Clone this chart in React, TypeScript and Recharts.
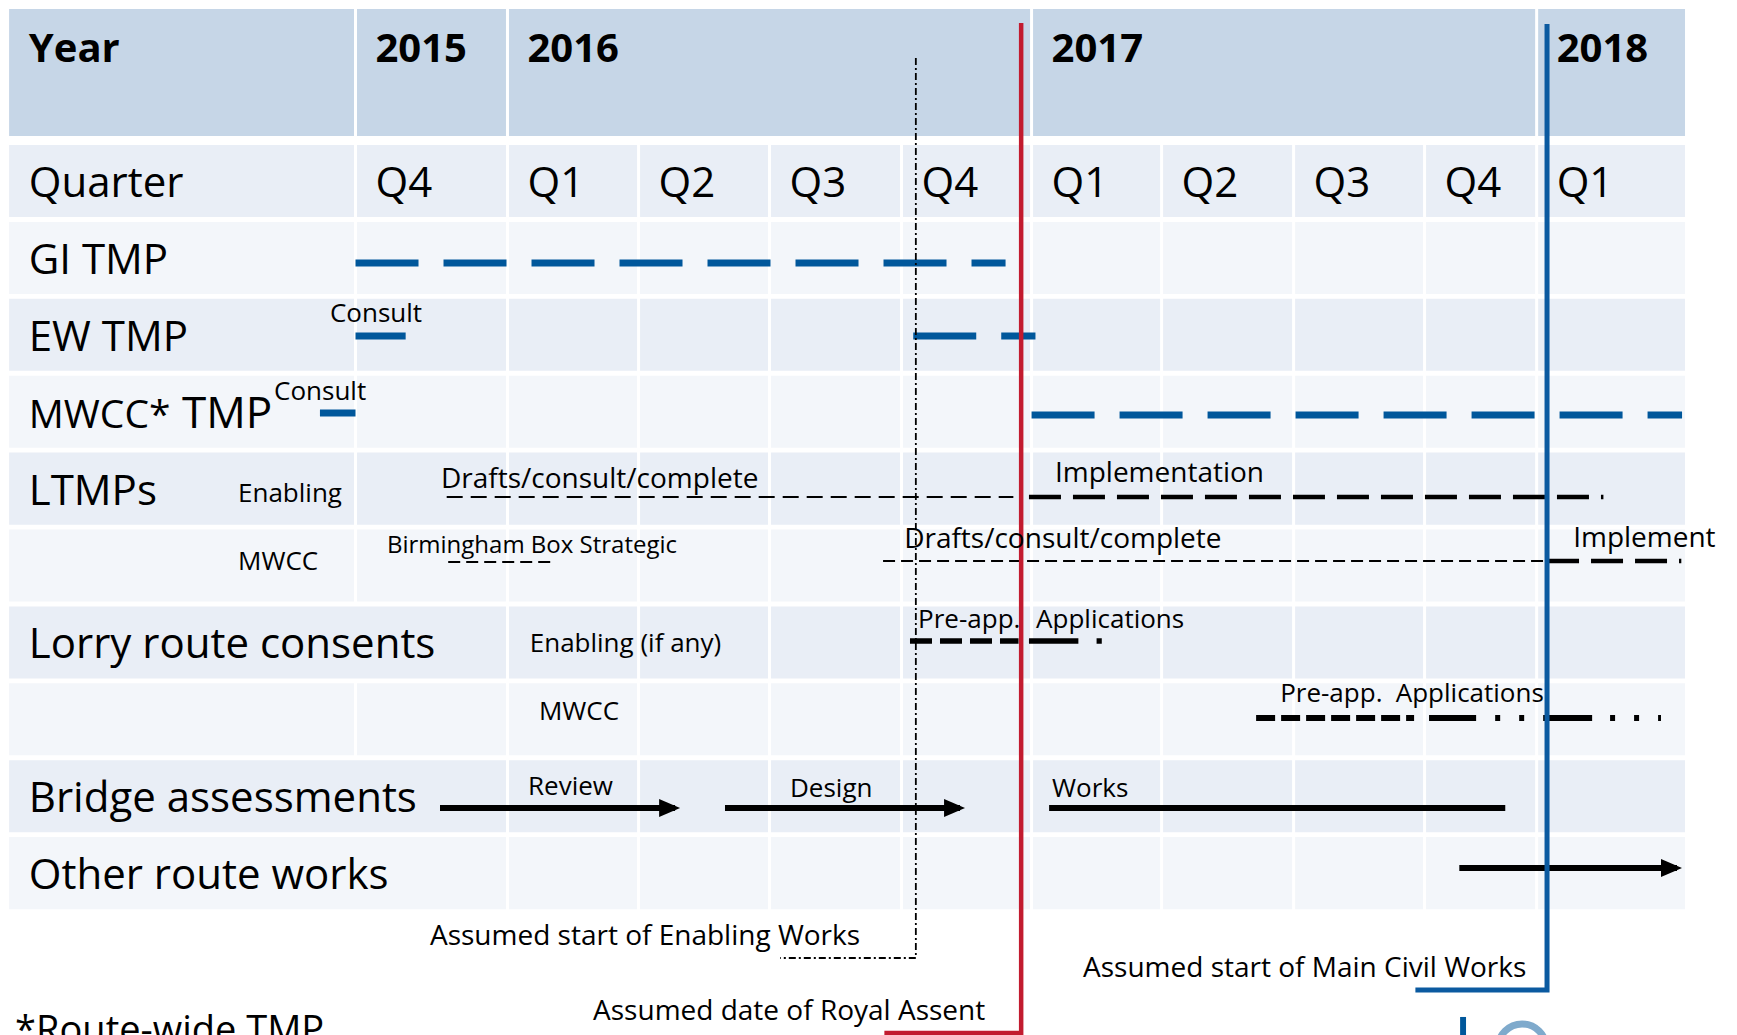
import React from 'react';
import { ComposedChart, XAxis, YAxis, Line, Scatter, ReferenceArea } from 'recharts';

// ---------------- DATA ----------------
// Time is measured in quarters from the start of Q4 2015 (0) to the end of Q1 2018 (10).
// Vertical position "at" is measured in table rows (row 0 = "Quarter").
const YEAR_LABELS = ['2015', '2016', '2017', '2018'];
const YEAR_FIRST_QUARTER = [0, 1, 5, 9];
const YEAR_LAST_QUARTER = [1, 5, 9, 10];
const QUARTER_LABELS = ['Q4', 'Q1', 'Q2', 'Q3', 'Q4', 'Q1', 'Q2', 'Q3', 'Q4', 'Q1'];
const ROW_LABELS = ['Quarter', 'GI TMP', 'EW TMP', 'MWCC* TMP', 'LTMPs', '', 'Lorry route consents', '', 'Bridge assessments', 'Other route works'];
const MERGED_LABEL_ROWS = [6, 8, 9];

const GI_TMP = [{ from: 0, to: 4.8, at: 1.534 }];
const EW_TMP_CONSULT = [{ from: 0, to: 0.33, at: 2.484 }];
const EW_TMP = [{ from: 4.09, to: 5.03, at: 2.484 }];
const MWCC_TMP_CONSULT = [{ from: -0.234, to: 0, at: 3.485 }];
const MWCC_TMP = [{ from: 5.0, to: 9.98, at: 3.511 }];
const LTMP_ENABLING_DRAFT = [{ from: 0.6, to: 4.86, at: 4.577 }];
const LTMP_ENABLING_IMPL = [{ from: 4.98, to: 9.45, at: 4.577 }];
const LTMP_MWCC_BBOX = [{ from: 0.61, to: 1.35, at: 5.423 }];
const LTMP_MWCC_DRAFT = [{ from: 3.86, to: 9.07, at: 5.41 }];
const LTMP_MWCC_IMPL = [{ from: 9.07, to: 9.975, at: 5.41 }];
const LORRY_ENABLING_PREAPP = [{ from: 4.065, to: 4.9, at: 6.45 }];
const LORRY_ENABLING_APPS = [{ from: 4.98, to: 5.36, at: 6.45 }, { from: 5.5, to: 5.54, at: 6.45 }];
const LORRY_MWCC_PREAPP = [{ from: 6.716, to: 7.92, at: 7.451 }];
const LORRY_MWCC_APPS = [{ from: 8.04, to: 8.46, at: 7.451 }, { from: 9.044, to: 9.374, at: 7.451 }];
const LORRY_MWCC_DOTS = [{ from: 8.63, to: 8.89, at: 7.451 }, { from: 9.495, to: 9.838, at: 7.451 }];
const BRIDGE_ARROWS = [{ from: 0.556, to: 2.279, at: 8.622 }, { from: 2.66, to: 4.45, at: 8.622 }];
const BRIDGE_WORKS = [{ from: 5.135, to: 8.72, at: 8.622 }];
const OTHER_ROUTE_ARROWS = [{ from: 8.31, to: 9.946, at: 9.402 }];

const MILESTONE_NAMES = ['enabling', 'assent', 'main'];
const MILESTONE_T = [4.11, 4.92, 9.07];
const MILESTONE_TOP = [-1.131, -1.586, -1.573];
const MILESTONE_BOTTOM = [10.572, 11.547, 10.988];
const MILESTONE_BACK = [3.08, 3.87, 7.93];

const TEXT_NOTES = [
  { text: 'Consult', t: -0.168, at: 2.302, kind: 'note' },
  { text: 'Consult', t: -0.536, at: 3.316, kind: 'note' },
  { text: 'Enabling', t: -0.773, at: 4.642, kind: 'note' },
  { text: 'MWCC', t: -0.773, at: 5.527, kind: 'note' },
  { text: 'Drafts/consult/complete', t: 0.5625, at: 4.46, kind: 'phase' },
  { text: 'Implementation', t: 5.18, at: 4.382, kind: 'phase' },
  { text: 'Birmingham Box Strategic', t: 0.207, at: 5.306, kind: 'small' },
  { text: 'Drafts/consult/complete', t: 4.02, at: 5.24, kind: 'phase' },
  { text: 'Implement', t: 9.246, at: 5.228, kind: 'phase' },
  { text: 'Enabling (if any)', t: 1.17, at: 6.593, kind: 'note' },
  { text: 'MWCC', t: 1.24, at: 7.477, kind: 'note' },
  { text: 'Pre-app.', t: 4.127, at: 6.281, kind: 'note' },
  { text: 'Applications', t: 5.035, at: 6.281, kind: 'note' },
  { text: 'Pre-app.', t: 6.898, at: 7.243, kind: 'note' },
  { text: 'Applications', t: 7.78, at: 7.243, kind: 'note' },
  { text: 'Review', t: 1.157, at: 8.453, kind: 'note' },
  { text: 'Design', t: 3.155, at: 8.478, kind: 'note' },
  { text: 'Works', t: 5.158, at: 8.478, kind: 'note' },
  { text: 'Assumed start of Enabling Works', t: 0.49, at: 10.403, kind: 'milestone' },
  { text: 'Assumed date of Royal Assent', t: 1.653, at: 11.378, kind: 'milestone' },
  { text: 'Assumed start of Main Civil Works', t: 5.396, at: 10.819, kind: 'milestone' },
  { text: '*Route-wide TMP', t: -2.24, at: 11.677, kind: 'footnote' },
];

const LOGO_BAR = { from: 8.317, to: 8.37, top: 11.339 };
const LOGO_ARC = { t: 8.87, at: 11.742 };

// ---------------- LAYOUT / STYLE ----------------
const W = 1737;
const H = 1035;
const X_DOMAIN = [-2.674, 10.391];
const Y_DOMAIN = [-1.8856, 11.5735];
const COL_W = [1.143, 0.986, 0.985, 0.993, 0.978, 0.978, 0.993, 0.985, 0.843, 1.116];
const COL_EDGE = COL_W.reduce((acc: number[], w) => [...acc, acc[acc.length - 1] + w], [0]);
const TABLE_LEFT = -2.2796;
const LABEL_T = -2.15;
const HEADER_TOP = -1.7685;
const HEADER_BOTTOM = -0.117;
const HEADER_BASELINE = -1.079;
const ROW_H = 0.937;
const ROW_BASELINE = 0.675;
const GAP = 0.0113;

const FONT = "'Open Sans', 'DejaVu Sans', sans-serif";
const HEADER_FILL = '#C6D6E7';
const DARK_FILL = '#E9EEF6';
const LIGHT_FILL = '#F3F6FA';
const BLUE = '#00579B';
const RED = '#C21B2F';
const BLUE_MS = '#0B5AA0';

// piecewise position of a time (in quarters) on the x axis, following the table's column widths
const qx = (t: number) => {
  const i = Math.max(0, Math.min(9, Math.floor(t)));
  return COL_EDGE[i] + (t - i) * COL_W[i];
};

const TEXT_STYLE: any = {
  headerLabel: { size: 40, weight: 700, dx: 0 },
  header: { size: 40, weight: 700, dx: 20 },
  rowLabel: { size: 42, weight: 400, dx: 0 },
  quarter: { size: 42, weight: 400, dx: 20 },
  note: { size: 26, weight: 400, dx: 0 },
  small: { size: 24, weight: 400, dx: 0 },
  phase: { size: 28, weight: 400, dx: 0 },
  milestone: { size: 28, weight: 400, dx: 0 },
  footnote: { size: 38, weight: 400, dx: 0 },
};

const LINE_STYLE: any = {
  blueDash: { stroke: BLUE, width: 7, dash: '63 25' },
  blueSolid: { stroke: BLUE, width: 7, dash: undefined },
  thinDashA: { stroke: '#000', width: 2, dash: '16 8' },
  thinDashB: { stroke: '#000', width: 2, dash: '12 6' },
  thickDash: { stroke: '#000', width: 4.5, dash: '32 12' },
  lorryDash: { stroke: '#000', width: 5.5, dash: '22 8' },
  lorrySolid: { stroke: '#000', width: 5.5, dash: undefined },
  lorryDashB: { stroke: '#000', width: 6, dash: '19 6' },
  lorrySolidB: { stroke: '#000', width: 6, dash: undefined },
  lorryDots: { stroke: '#000', width: 6, dash: '5 19' },
  arrow: { stroke: '#000', width: 6, dash: undefined },
};

const SERIES = [
  { segs: GI_TMP, style: 'blueDash' },
  { segs: EW_TMP_CONSULT, style: 'blueSolid' },
  { segs: EW_TMP, style: 'blueDash' },
  { segs: MWCC_TMP_CONSULT, style: 'blueSolid' },
  { segs: MWCC_TMP, style: 'blueDash' },
  { segs: LTMP_ENABLING_DRAFT, style: 'thinDashA' },
  { segs: LTMP_ENABLING_IMPL, style: 'thickDash' },
  { segs: LTMP_MWCC_BBOX, style: 'thinDashB' },
  { segs: LTMP_MWCC_DRAFT, style: 'thinDashB' },
  { segs: LTMP_MWCC_IMPL, style: 'thickDash' },
  { segs: LORRY_ENABLING_PREAPP, style: 'lorryDash' },
  { segs: LORRY_ENABLING_APPS, style: 'lorrySolid' },
  { segs: LORRY_MWCC_PREAPP, style: 'lorryDashB' },
  { segs: LORRY_MWCC_APPS, style: 'lorrySolidB' },
  { segs: LORRY_MWCC_DOTS, style: 'lorryDots' },
  { segs: BRIDGE_ARROWS, style: 'arrow' },
  { segs: BRIDGE_WORKS, style: 'arrow' },
  { segs: OTHER_ROUTE_ARROWS, style: 'arrow' },
];

const MILESTONE_STYLE: any = {
  enabling: { stroke: '#000', width: 1.8, dash: '7 3 2 3' },
  assent: { stroke: RED, width: 4.5, dash: undefined },
  main: { stroke: BLUE_MS, width: 5, dash: undefined },
};

// ---------------- BUILD ----------------
type Cell = { x1: number; x2: number; y1: number; y2: number; fill: string };
const cells: Cell[] = [];
const pushCell = (t1: number, t2: number, y1: number, y2: number, fill: string) => {
  const x1 = t1 === TABLE_LEFT ? qx(t1) : qx(t1) + GAP;
  const x2 = t2 === 10 ? qx(t2) : qx(t2) - GAP;
  cells.push({ x1, x2, y1, y2, fill });
};
pushCell(TABLE_LEFT, 0, HEADER_TOP, HEADER_BOTTOM, HEADER_FILL);
YEAR_LABELS.forEach((_, i) => pushCell(YEAR_FIRST_QUARTER[i], YEAR_LAST_QUARTER[i], HEADER_TOP, HEADER_BOTTOM, HEADER_FILL));
ROW_LABELS.forEach((_, r) => {
  const fill = r % 2 === 0 ? DARK_FILL : LIGHT_FILL;
  const merged = MERGED_LABEL_ROWS.includes(r);
  pushCell(TABLE_LEFT, merged ? 1 : 0, r, r + ROW_H, fill);
  for (let q = merged ? 1 : 0; q < 10; q++) pushCell(q, q + 1, r, r + ROW_H, fill);
});

const textPoints: any[] = [];
textPoints.push({ x: qx(LABEL_T), y: HEADER_BASELINE, text: 'Year', kind: 'headerLabel' });
YEAR_LABELS.forEach((label, i) => textPoints.push({ x: qx(YEAR_FIRST_QUARTER[i]), y: HEADER_BASELINE, text: label, kind: 'header' }));
QUARTER_LABELS.forEach((label, i) => textPoints.push({ x: qx(i), y: ROW_BASELINE, text: label, kind: 'quarter' }));
ROW_LABELS.forEach((label, r) => {
  if (label) textPoints.push({ x: qx(LABEL_T), y: r + ROW_BASELINE, text: label, kind: 'rowLabel' });
});
TEXT_NOTES.forEach((n) => textPoints.push({ x: qx(n.t), y: n.at, text: n.text, kind: n.kind }));

const arrowTips = [...BRIDGE_ARROWS, ...OTHER_ROUTE_ARROWS].map((s) => ({ x: qx(s.to), y: s.at }));

const renderText = (p: any) => {
  const d = p.payload;
  const s = TEXT_STYLE[d.kind];
  if (p.cx == null || p.cy == null) return <g />;
  if (d.kind === 'rowLabel' && d.text.includes('* ')) {
    const [a, b] = d.text.split('* ');
    return (
      <text x={p.cx + s.dx} y={p.cy} fontFamily={FONT} fill="#000">
        <tspan fontSize={39}>{a + '*'}</tspan>
        <tspan fontSize={44}>{' ' + b}</tspan>
      </text>
    );
  }
  return (
    <text x={p.cx + s.dx} y={p.cy} fontSize={s.size} fontWeight={s.weight} fontFamily={FONT} fill="#000">
      {d.text}
    </text>
  );
};

const renderArrowHead = (p: any) => {
  const { cx, cy } = p;
  if (cx == null || cy == null) return <g />;
  return <path d={`M${cx - 16},${cy - 9} L${cx + 5},${cy} L${cx - 16},${cy + 9} Z`} fill="#000" />;
};

const renderLogoArc = (p: any) => {
  const { cx, cy } = p;
  if (cx == null || cy == null) return <g />;
  return <circle cx={cx} cy={cy} r={24} fill="none" stroke="#7FAACC" strokeWidth={7} />;
};

export default function App() {
  return (
    <div style={{ width: W, height: H, background: '#fff' }}>
      <style>{'body{margin:0;background:#fff;}'}</style>
      <ComposedChart width={W} height={H} margin={{ top: 0, right: 0, bottom: 0, left: 0 }}>
        <XAxis type="number" dataKey="x" domain={X_DOMAIN} allowDataOverflow hide />
        <YAxis type="number" dataKey="y" domain={Y_DOMAIN} allowDataOverflow reversed hide />
        {cells.map((c, i) => (
          <ReferenceArea key={'c' + i} x1={c.x1} x2={c.x2} y1={c.y1} y2={c.y2} fill={c.fill} fillOpacity={1} stroke="none" ifOverflow="visible" />
        ))}
        <ReferenceArea x1={qx(LOGO_BAR.from)} x2={qx(LOGO_BAR.to)} y1={LOGO_BAR.top} y2={Y_DOMAIN[1]} fill={BLUE} fillOpacity={1} stroke="none" ifOverflow="visible" />
        {SERIES.flatMap((s, si) =>
          s.segs.map((seg, j) => {
            const st = LINE_STYLE[s.style];
            return (
              <Line
                key={'s' + si + '-' + j}
                data={[{ x: qx(seg.from), y: seg.at }, { x: qx(seg.to), y: seg.at }]}
                dataKey="y"
                type="linear"
                stroke={st.stroke}
                strokeWidth={st.width}
                strokeDasharray={st.dash}
                dot={false}
                activeDot={false}
                legendType="none"
                isAnimationActive={false}
              />
            );
          })
        )}
        <Scatter data={arrowTips} dataKey="y" shape={renderArrowHead} isAnimationActive={false} />
        <Scatter data={[{ x: qx(LOGO_ARC.t), y: LOGO_ARC.at }]} dataKey="y" shape={renderLogoArc} isAnimationActive={false} />
        <Scatter data={textPoints} dataKey="y" shape={renderText} isAnimationActive={false} />
        {MILESTONE_NAMES.map((name, i) => {
          const st = MILESTONE_STYLE[name];
          return (
            <Line
              key={'m' + i}
              data={[
                { x: qx(MILESTONE_T[i]), y: MILESTONE_TOP[i] },
                { x: qx(MILESTONE_T[i]), y: MILESTONE_BOTTOM[i] },
                { x: qx(MILESTONE_BACK[i]), y: MILESTONE_BOTTOM[i] },
              ]}
              dataKey="y"
              type="linear"
              stroke={st.stroke}
              strokeWidth={st.width}
              strokeDasharray={st.dash}
              dot={false}
              activeDot={false}
              legendType="none"
              isAnimationActive={false}
            />
          );
        })}
      </ComposedChart>
    </div>
  );
}
